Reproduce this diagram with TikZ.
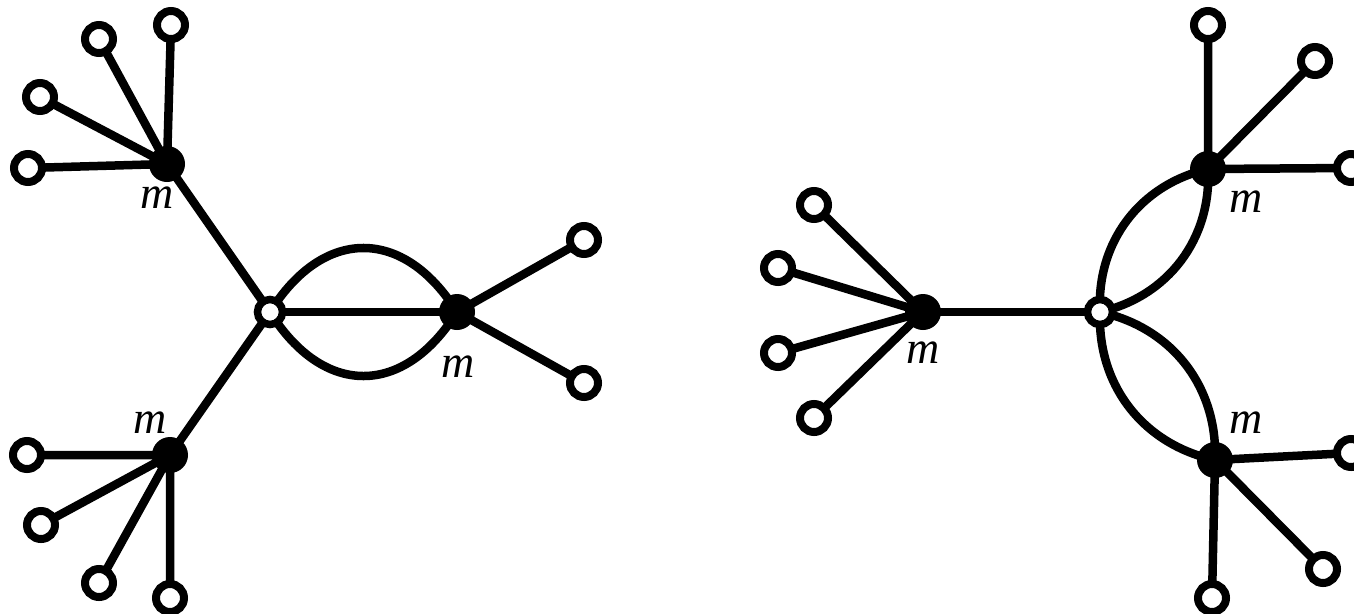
\documentclass[tikz,border=0pt]{standalone}
\usepackage{fontspec}
\setmainfont{Liberation Serif}
\usetikzlibrary{backgrounds}
\begin{document}
\begin{tikzpicture}[x=1pt,y=-1pt,
  edge/.style={line width=8.5pt},
  leaf/.style={circle, draw, line width=8pt, fill=white, minimum size=28pt, inner sep=0pt},
  mid/.style={circle, draw, line width=7.5pt, fill=white, minimum size=25pt, inner sep=0pt},
  hub/.style={circle, fill=black, minimum size=36pt, inner sep=0pt},
  lab/.style={inner sep=0pt, font=\fontsize{46}{50}\selectfont\itshape}]
\useasboundingbox (0,0) rectangle (1354,613);
% left graph
\node[mid] (W1) at (270,312) {};
\node[hub] (B1) at (167,164) {};
\node[hub] (B2) at (457,312) {};
\node[hub] (B3) at (170,455) {};
\node[leaf] (a1) at (28,168) {};
\node[leaf] (a2) at (40,97) {};
\node[leaf] (a3) at (99,39) {};
\node[leaf] (a4) at (171,25) {};
\node[leaf] (b1) at (584,240) {};
\node[leaf] (b2) at (584,383) {};
\node[leaf] (c1) at (27,455) {};
\node[leaf] (c2) at (41,525) {};
\node[leaf] (c3) at (99,583) {};
\node[leaf] (c4) at (170,598) {};
% right graph
\node[hub] (B4) at (923,312) {};
\node[mid] (W2) at (1100,312) {};
\node[hub] (B5) at (1208,169) {};
\node[hub] (B6) at (1215,460) {};
\node[leaf] (d1) at (814,205) {};
\node[leaf] (d2) at (778,268) {};
\node[leaf] (d3) at (778,353) {};
\node[leaf] (d4) at (814,418) {};
\node[leaf] (e1) at (1208,25) {};
\node[leaf] (e2) at (1315,61) {};
\node[leaf] (e3) at (1351,168) {};
\node[leaf] (f1) at (1351,453) {};
\node[leaf] (f2) at (1323,569) {};
\node[leaf] (f3) at (1212,598) {};
% labels
\node[lab] (m1) at (157,198) {m};
\node[lab] (m3) at (150,423) {m};
\node[lab] (m2) at (458,367) {m};
\node[lab] (m4) at (923,353) {m};
\node[lab] (m5) at (1246,202) {m};
\node[lab] (m6) at (1246,423) {m};
\begin{pgfonlayer}{background}
\draw[edge] (B1.center) -- (a1.center) (B1.center) -- (a2.center)
  (B1.center) -- (a3.center) (B1.center) -- (a4.center);
\draw[edge] (B3.center) -- (c1.center) (B3.center) -- (c2.center)
  (B3.center) -- (c3.center) (B3.center) -- (c4.center);
\draw[edge] (B2.center) -- (b1.center) (B2.center) -- (b2.center);
\draw[edge] (B1.center) -- (W1.center) -- (B3.center);
\draw[edge] (W1.center) -- (B2.center);
\draw[edge] (W1.center) to[bend left=58, looseness=1.38] (B2.center);
\draw[edge] (W1.center) to[bend right=58, looseness=1.38] (B2.center);
\draw[edge] (B4.center) -- (d1.center) (B4.center) -- (d2.center)
  (B4.center) -- (d3.center) (B4.center) -- (d4.center);
\draw[edge] (B4.center) -- (W2.center);
\draw[edge] (W2.center) to[bend left=40] (B5.center);
\draw[edge] (W2.center) to[bend right=40] (B5.center);
\draw[edge] (W2.center) to[bend left=40] (B6.center);
\draw[edge] (W2.center) to[bend right=40] (B6.center);
\draw[edge] (B5.center) -- (e1.center) (B5.center) -- (e2.center) (B5.center) -- (e3.center);
\draw[edge] (B6.center) -- (f1.center) (B6.center) -- (f2.center) (B6.center) -- (f3.center);
\end{pgfonlayer}
\end{tikzpicture}
\end{document}
